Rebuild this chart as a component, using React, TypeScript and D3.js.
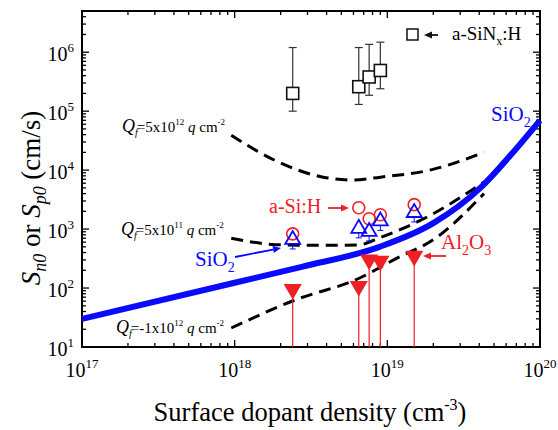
import React from 'react';
import * as d3 from 'd3';

// measured samples (surface dopant density, cm^-3)
const sampleDensity = [2.4e18, 6.5e18, 7.6e18, 9e18, 1.5e19];
const siNxDensity = [2.4e18, 6.5e18, 7.6e18, 9e18];
const siNxS = [2.0e5, 2.6e5, 3.8e5, 4.9e5];
const siNxHi = [1.2e6, 1.2e6, 1.36e6, 1.48e6];
const siNxLo = [1.0e5, 1.3e5, 1.86e5, 2.4e5];
const aSiHS = [830, 2300, 1500, 1750, 2600];
const sio2S = [680, 1050, 930, 1400, 1950];
const sio2Lo = [460, 710, 630, 950, 1320];
const al2o3S = [93, 105, 295, 280, 340];

// SiO2 model curve
const sio2CurveX = [1e17, 1e18, 2.75e18, 8.9e18, 2e19, 4.1e19, 6.6e19, 1e20];
const sio2CurveY = [30, 123, 229, 500, 1260, 5100, 19500, 70000];

// fixed charge curves
const qf5e12X = [9.5e17, 1.8e18, 3.8e18, 6e18, 9e18, 1.9e19, 4.3e19];
const qf5e12Y = [3.9e4, 1.5e4, 7.6e3, 6.8e3, 7.6e3, 1.0e4, 2.0e4];
const qf5e11X = [9.5e17, 2e18, 4e18, 6.5e18, 9e18, 1.9e19, 4.3e19];
const qf5e11Y = [700, 540, 530, 540, 720, 1700, 6300];
const qfNegX = [9.5e17, 2.5e18, 6.6e18, 1.1e19, 2.1e19, 4.3e19];
const qfNegY = [21, 63, 148, 300, 720, 4000];

const xTickExp = [17, 18, 19, 20];
const yTickExp = [1, 2, 3, 4, 5, 6];

const W = 558;
const H = 430;
const m = { left: 82, right: 540, top: 11, bottom: 347 };
const BLUE = '#0a0aff';
const RED = '#ee2024';
const FONT = '"Liberation Serif", "Times New Roman", serif';

const x = d3.scaleLog().domain([1e17, 1e20]).range([m.left, m.right]);
const y = d3.scaleLog().domain([10, 5e6]).range([m.bottom, m.top]);

const lineGen = d3
  .line<[number, number]>()
  .x((d) => x(d[0]))
  .y((d) => y(d[1]))
  .curve(d3.curveMonotoneX);

const zip = (a: number[], b: number[]) => a.map((v, i) => [v, b[i]] as [number, number]);

const Tri = ({ cx, cy, down, fill, stroke }: any) => {
  const s = down ? -1 : 1;
  const pts = [
    [cx, cy - s * 8],
    [cx - 7.5, cy + s * 5],
    [cx + 7.5, cy + s * 5],
  ];
  return <polygon points={pts.map((p) => p.join(',')).join(' ')} fill={fill} stroke={stroke} strokeWidth={1.8} />;
};

const Arrow = ({ x1, y1, x2, y2, color }: any) => {
  const a = Math.atan2(y2 - y1, x2 - x1);
  const L = 8;
  const w = 3.5;
  const bx = x2 - L * Math.cos(a);
  const by = y2 - L * Math.sin(a);
  const p1 = [bx + w * Math.sin(a), by - w * Math.cos(a)];
  const p2 = [bx - w * Math.sin(a), by + w * Math.cos(a)];
  return (
    <g>
      <line x1={x1} y1={y1} x2={bx} y2={by} stroke={color} strokeWidth={1.8} />
      <polygon points={`${x2},${y2} ${p1.join(',')} ${p2.join(',')}`} fill={color} />
    </g>
  );
};

const QfLabel = ({ tx, ty, val, exp }: any) => (
  <text x={tx} y={ty} fontSize={15} fontFamily={FONT} fill="#000">
    <tspan fontStyle="italic" fontSize={18}>Q</tspan>
    <tspan fontStyle="italic" fontSize={10} dy={4}>f</tspan>
    <tspan dy={-4} dx={-1}>={val}x10</tspan>
    <tspan fontSize={9} dy={-7}>{exp}</tspan>
    <tspan dy={7} fontStyle="italic"> q</tspan>
    <tspan> cm</tspan>
    <tspan fontSize={9} dy={-7}>-2</tspan>
  </text>
);

export default function App() {
  const xMinor = x.ticks();
  const yMinor = y.ticks();
  return (
    <svg width={W} height={H} style={{ position: 'absolute', left: 0, top: 0, background: '#fff' }}>
      {/* ticks on all four sides */}
      {xMinor.map((t, i) => {
        const major = Math.abs(Math.log10(t) - Math.round(Math.log10(t))) < 1e-6;
        const len = major ? 7 : 4;
        return (
          <g key={'xt' + i} stroke="#000" strokeWidth={1.3}>
            <line x1={x(t)} x2={x(t)} y1={m.bottom} y2={m.bottom - len} />
            <line x1={x(t)} x2={x(t)} y1={m.top} y2={m.top + len} />
          </g>
        );
      })}
      {yMinor.map((t, i) => {
        const major = Math.abs(Math.log10(t) - Math.round(Math.log10(t))) < 1e-6;
        const len = major ? 7 : 4;
        return (
          <g key={'yt' + i} stroke="#000" strokeWidth={1.3}>
            <line x1={m.left} x2={m.left + len} y1={y(t)} y2={y(t)} />
            <line x1={m.right} x2={m.right - len} y1={y(t)} y2={y(t)} />
          </g>
        );
      })}
      <rect x={m.left} y={m.top} width={m.right - m.left} height={m.bottom - m.top} fill="none" stroke="#000" strokeWidth={2} />

      {/* tick labels */}
      {xTickExp.map((e) => (
        <text key={'xl' + e} x={x(Math.pow(10, e))} y={377} fontSize={20} fontFamily={FONT} textAnchor="middle">
          <tspan>10</tspan>
          <tspan fontSize={13} dy={-9}>{e}</tspan>
        </text>
      ))}
      {yTickExp.map((e) => (
        <text key={'yl' + e} x={74} y={y(Math.pow(10, e)) + 9} fontSize={20} fontFamily={FONT} textAnchor="end">
          <tspan>10</tspan>
          <tspan fontSize={13} dy={-9}>{e}</tspan>
        </text>
      ))}

      {/* axis titles */}
      <text x={310} y={421} fontSize={26.5} fontFamily={FONT} textAnchor="middle">
        <tspan>Surface dopant density (cm</tspan>
        <tspan fontSize={16} dy={-11}>-3</tspan>
        <tspan dy={11}>)</tspan>
      </text>
      <text transform="translate(40,198) rotate(-90)" fontSize={27} fontFamily={FONT} textAnchor="middle">
        <tspan fontStyle="italic">S</tspan>
        <tspan fontStyle="italic" fontSize={18} dy={6}>n0</tspan>
        <tspan dy={-6}> or </tspan>
        <tspan fontStyle="italic">S</tspan>
        <tspan fontStyle="italic" fontSize={18} dy={6}>p0</tspan>
        <tspan dy={-6}> (cm/s)</tspan>
      </text>

      {/* dashed fixed-charge curves */}
      {[zip(qf5e12X, qf5e12Y), zip(qf5e11X, qf5e11Y), zip(qfNegX, qfNegY)].map((d, i) => (
        <path key={'qf' + i} d={lineGen(d) || ''} fill="none" stroke="#000" strokeWidth={3} strokeDasharray="12,7" />
      ))}
      <QfLabel tx={122} ty={132} val="5" exp="12" />
      <QfLabel tx={121} ty={235} val="5" exp="11" />
      <QfLabel tx={116} ty={333} val="-1" exp="12" />

      {/* Al2O3 lower bars */}
      {sampleDensity.map((d, i) => (
        <line key={'al' + i} x1={x(d)} x2={x(d)} y1={y(al2o3S[i])} y2={m.bottom} stroke={RED} strokeWidth={1.2} />
      ))}

      {/* SiO2 curve */}
      <path d={lineGen(zip(sio2CurveX, sio2CurveY)) || ''} fill="none" stroke={BLUE} strokeWidth={6} />

      {/* a-SiNx:H squares */}
      {siNxDensity.map((d, i) => (
        <g key={'sq' + i} stroke="#333" fill="#fff">
          <line x1={x(d)} x2={x(d)} y1={y(siNxHi[i])} y2={y(siNxLo[i])} strokeWidth={1.2} />
          <line x1={x(d) - 4} x2={x(d) + 4} y1={y(siNxHi[i])} y2={y(siNxHi[i])} strokeWidth={1.2} />
          <line x1={x(d) - 4} x2={x(d) + 4} y1={y(siNxLo[i])} y2={y(siNxLo[i])} strokeWidth={1.2} />
          <rect x={x(d) - 6} y={y(siNxS[i]) - 6} width={12} height={12} strokeWidth={1.6} stroke="#111" />
        </g>
      ))}

      {/* a-Si:H circles */}
      {sampleDensity.map((d, i) => (
        <circle key={'c' + i} cx={x(d)} cy={y(aSiHS[i])} r={6} fill="none" stroke={RED} strokeWidth={1.6} />
      ))}

      {/* SiO2 triangles */}
      {sampleDensity.map((d, i) => (
        <g key={'t' + i}>
          <line x1={x(d)} x2={x(d)} y1={y(sio2S[i]) + 5} y2={y(sio2Lo[i])} stroke={BLUE} strokeWidth={1} />
          <line x1={x(d) - 3} x2={x(d) + 3} y1={y(sio2Lo[i])} y2={y(sio2Lo[i])} stroke={BLUE} strokeWidth={1} />
          <Tri cx={x(d)} cy={y(sio2S[i])} fill="none" stroke={BLUE} />
        </g>
      ))}

      {/* Al2O3 triangles */}
      {sampleDensity.map((d, i) => (
        <Tri key={'a' + i} cx={x(d)} cy={y(al2o3S[i])} down fill={RED} stroke={RED} />
      ))}

      {/* annotations */}
      <rect x={407} y={29} width={11} height={11} fill="none" stroke="#111" strokeWidth={1.5} />
      <Arrow x1={438} y1={35} x2={424} y2={35} color="#111" />
      <text x={452} y={40} fontSize={19} fontFamily={FONT}>
        <tspan>a-SiN</tspan>
        <tspan fontSize={12} dy={5}>x</tspan>
        <tspan dy={-5}>:H</tspan>
      </text>

      <text x={269} y={213} fontSize={20} fontFamily={FONT} fill={RED}>a-Si:H</text>
      <Arrow x1={328} y1={208} x2={349} y2={208} color={RED} />

      <text x={195} y={266} fontSize={21} fontFamily={FONT} fill={BLUE}>
        <tspan>SiO</tspan>
        <tspan fontSize={14} dy={6}>2</tspan>
      </text>
      <Arrow x1={235} y1={257} x2={281} y2={248} color={BLUE} />

      <text x={491} y={121} fontSize={21} fontFamily={FONT} fill={BLUE}>
        <tspan>SiO</tspan>
        <tspan fontSize={14} dy={6}>2</tspan>
      </text>

      <text x={441} y={249} fontSize={21} fontFamily={FONT} fill={RED}>
        <tspan>Al</tspan>
        <tspan fontSize={14} dy={6}>2</tspan>
        <tspan dy={-6}>O</tspan>
        <tspan fontSize={14} dy={6}>3</tspan>
      </text>
      <Arrow x1={446} y1={256} x2={423} y2={256} color={RED} />
    </svg>
  );
}
